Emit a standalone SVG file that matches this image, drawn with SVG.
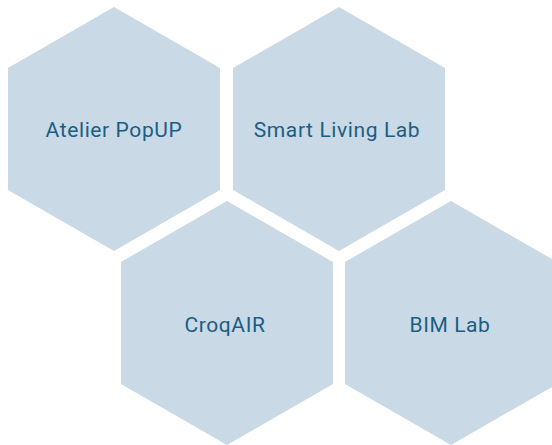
<svg xmlns="http://www.w3.org/2000/svg" width="552" height="445" viewBox="0 0 552 445">
<style>
.hex{fill:#c9d9e5}
.lbl{font-family:Roboto,"Liberation Sans",sans-serif;font-size:21px;letter-spacing:0.6px;fill:#1b5e84;text-anchor:middle}
</style>
<defs>
<polygon id="h" points="0,-122 106,-61 106,61 0,122 -106,61 -106,-61"/>
</defs>
<rect width="552" height="445" fill="#ffffff"/>
<g id="atelier-popup"><use href="#h" class="hex" x="114" y="129"/><text class="lbl" x="114" y="137">Atelier PopUP</text></g>
<g id="smart-living-lab"><use href="#h" class="hex" x="339" y="129"/><text class="lbl" x="337" y="137">Smart Living Lab</text></g>
<g id="croqair"><use href="#h" class="hex" x="227" y="323"/><text class="lbl" x="225" y="332">CroqAIR</text></g>
<g id="bim-lab"><use href="#h" class="hex" x="451" y="323"/><text class="lbl" x="450" y="332">BIM Lab</text></g>
<g id="connectors"></g>
</svg>
